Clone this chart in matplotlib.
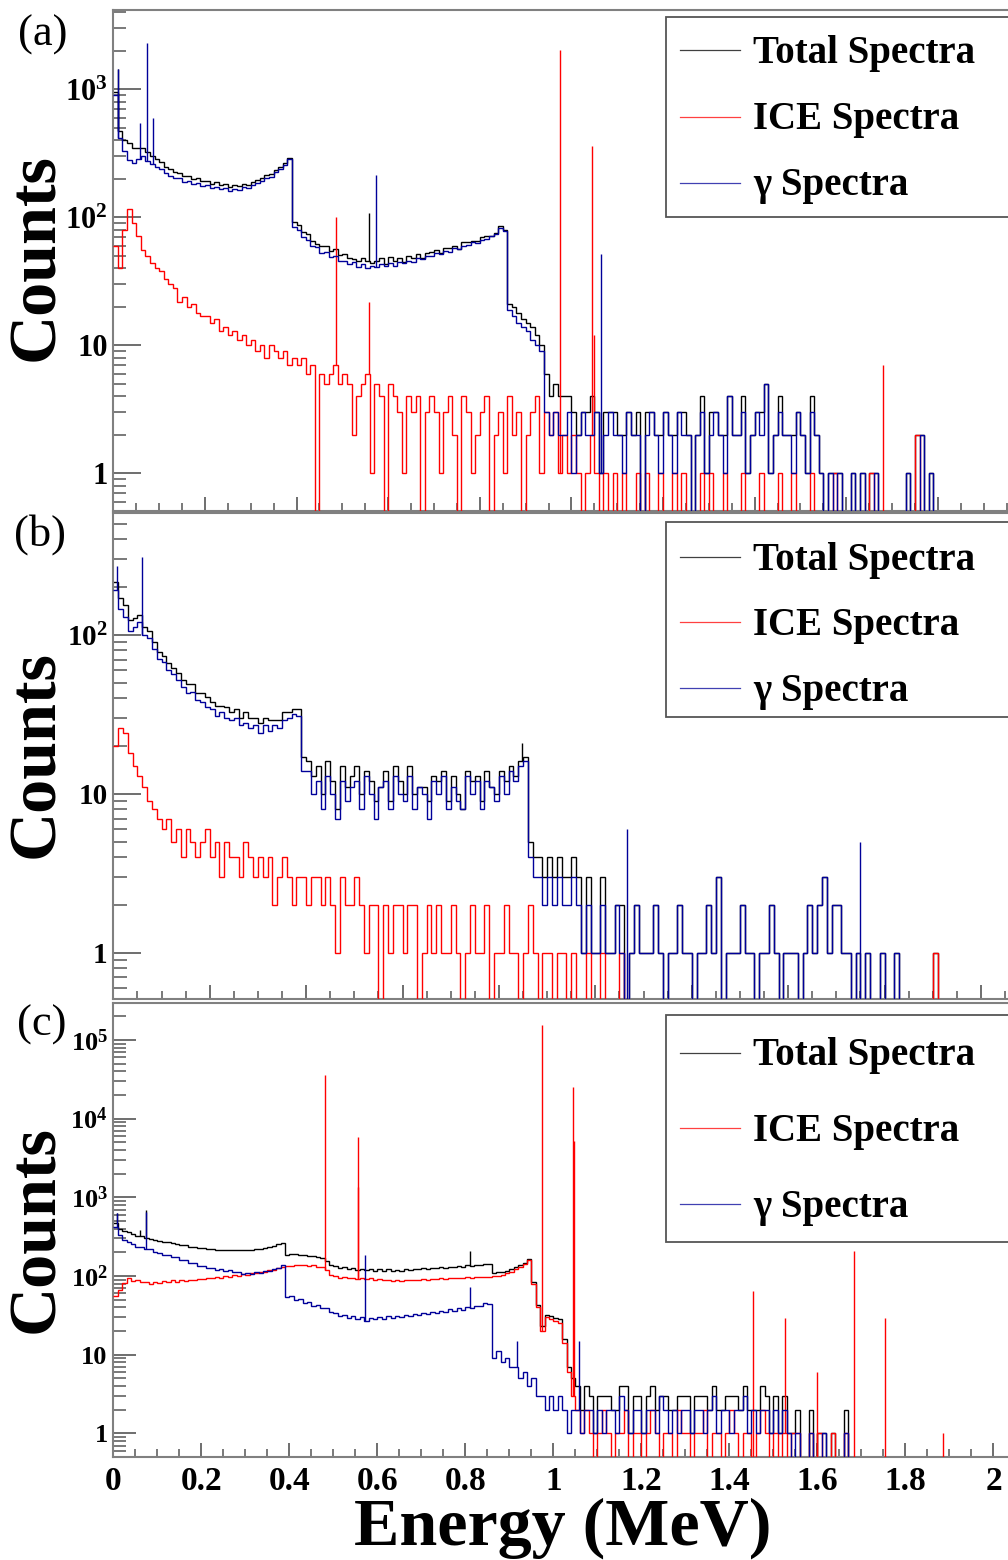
import numpy as np
import matplotlib
matplotlib.use("Agg")
import matplotlib.pyplot as plt
from matplotlib.lines import Line2D
from matplotlib.patches import Rectangle
from matplotlib.ticker import FixedLocator, LogLocator, NullFormatter, MultipleLocator, FuncFormatter

# ---------------- data (counts per 10 keV bin) ----------------
BIN_EDGES_MEV = np.linspace(0.0, 2.0, 201)
SERIES_NAMES = ["Total Spectra", "ICE Spectra", "\u03b3 Spectra"]

# ---- panel (a) ----
A_TOTAL = [
    960, 470, 400, 385, 352, 350, 352, 322, 303, 285,
    270, 250, 238, 226, 224, 210, 210, 198, 202, 192,
    193, 184, 188, 178, 182, 172, 180, 175, 183, 180,
    190, 195, 202, 214, 217, 236, 246, 266, 292, 92,
    88, 77, 74, 66, 62, 60, 60, 55, 57, 51,
    52, 48, 47, 46, 48, 46, 44, 46, 48, 43,
    49, 46, 48, 45, 50, 48, 52, 48, 53, 54,
    56, 53, 58, 58, 60, 57, 64, 64, 65, 65,
    70, 72, 72, 76, 85, 80, 21, 20, 18, 16,
    15, 14, 12, 10, 6, 4, 5, 4, 4, 4,
    3, 2, 3, 3, 4, 3, 1, 3, 3, 3,
    2, 2, 3, 2, 3, 0, 3, 3, 2, 2,
    3, 2, 2, 3, 3, 2, 0, 2, 4, 1,
    3, 3, 2, 2, 4, 2, 2, 4, 1, 2,
    3, 3, 5, 1, 2, 4, 2, 2, 2, 3,
    2, 1, 4, 2, 1, 0, 1, 1, 1, 0,
    0, 1, 0, 1, 0, 1, 1, 0, 0, 0,
    0, 0, 0, 1, 0, 2, 2, 0, 1, 0,
    0, 0, 0, 0, 0, 0, 0, 0, 0, 0,
    0, 0, 0, 0, 0, 0, 0, 0, 0, 0,
]
A_ICE = [
    60, 40, 80, 117, 90, 72, 56, 50, 44, 40,
    38, 33, 30, 28, 22, 24, 20, 21, 18, 17,
    17, 15, 16, 13, 14, 12, 13, 11, 12, 10,
    11, 9, 10, 8, 10, 9, 8, 9, 7, 8,
    7, 8, 6, 7, 0, 6, 5, 6, 7, 5,
    6, 5, 2, 4, 5, 6, 1, 5, 4, 0,
    5, 4, 3, 1, 4, 3, 4, 0, 3, 4,
    3, 1, 3, 4, 2, 0, 4, 3, 1, 2,
    3, 4, 0, 2, 3, 1, 4, 2, 3, 0,
    2, 3, 4, 1, 3, 2, 3, 1, 2, 1,
    2, 1, 0, 1, 2, 1, 0, 1, 0, 1,
    0, 1, 0, 0, 1, 0, 1, 0, 0, 1,
    0, 0, 1, 0, 1, 0, 0, 0, 1, 0,
    1, 0, 0, 1, 0, 0, 0, 1, 0, 0,
    0, 1, 0, 0, 0, 1, 0, 0, 1, 0,
    0, 0, 1, 0, 0, 0, 0, 1, 0, 0,
    0, 0, 0, 0, 0, 1, 0, 0, 0, 0,
    0, 0, 0, 0, 0, 2, 0, 0, 0, 0,
    0, 0, 0, 0, 0, 0, 0, 0, 0, 0,
    0, 0, 0, 0, 0, 0, 0, 0, 0, 0,
]
A_GAMMA = [
    900, 420, 330, 280, 265, 285, 300, 275, 262, 248,
    240, 222, 210, 202, 204, 190, 192, 181, 185, 176,
    178, 170, 174, 166, 169, 160, 167, 164, 172, 170,
    180, 186, 192, 205, 208, 228, 238, 258, 285, 84,
    80, 70, 67, 60, 59, 53, 54, 49, 50, 46,
    46, 43, 45, 41, 43, 40, 42, 41, 43, 42,
    44, 42, 45, 44, 46, 45, 48, 47, 50, 50,
    53, 52, 55, 54, 58, 57, 60, 61, 64, 63,
    67, 68, 72, 74, 82, 79, 19, 17, 15, 14,
    13, 11, 10, 9, 3, 2, 3, 2, 2, 3,
    1, 2, 3, 2, 2, 3, 1, 2, 3, 2,
    2, 1, 3, 2, 2, 0, 2, 3, 2, 1,
    3, 2, 1, 3, 2, 2, 0, 2, 3, 1,
    2, 3, 2, 1, 4, 2, 2, 3, 1, 2,
    3, 2, 5, 1, 2, 3, 2, 2, 1, 3,
    2, 1, 3, 2, 1, 0, 1, 0, 1, 0,
    0, 1, 0, 1, 0, 0, 1, 0, 0, 0,
    0, 0, 0, 1, 0, 0, 2, 0, 1, 0,
    0, 0, 0, 0, 0, 0, 0, 0, 0, 0,
    0, 0, 0, 0, 0, 0, 0, 0, 0, 0,
]
A_TOTAL_PEAK_E = [0.010, 0.558]
A_TOTAL_PEAK_H = [1450, 108]
A_ICE_PEAK_E = [0.486, 0.558, 0.975, 1.046, 1.049, 1.680]
A_ICE_PEAK_H = [100, 22, 2030, 360, 12, 7]
A_GAMMA_PEAK_E = [0.010, 0.058, 0.073, 0.087, 0.574, 1.065]
A_GAMMA_PEAK_H = [1450, 550, 2300, 600, 213, 52]

# ---- panel (b) ----
B_TOTAL = [
    215, 172, 155, 125, 128, 133, 112, 106, 90, 78,
    74, 67, 62, 58, 52, 49, 49, 43, 43, 41,
    38, 36, 36, 35, 33, 34, 30, 33, 30, 30,
    28, 30, 29, 29, 29, 33, 33, 34, 34, 17,
    16, 13, 15, 10, 16, 12, 8, 15, 11, 13,
    15, 10, 14, 12, 9, 11, 14, 9, 15, 12,
    10, 15, 10, 11, 11, 9, 13, 12, 14, 9,
    13, 10, 8, 14, 12, 13, 9, 14, 11, 10,
    14, 12, 15, 13, 16, 17, 5, 4, 4, 3,
    4, 3, 4, 3, 3, 4, 3, 1, 3, 1,
    1, 3, 1, 1, 2, 2, 0, 1, 2, 1,
    1, 1, 2, 1, 0, 1, 1, 2, 1, 1,
    0, 1, 1, 2, 1, 3, 0, 1, 1, 1,
    2, 1, 1, 0, 1, 1, 2, 1, 0, 1,
    1, 1, 0, 1, 2, 1, 2, 3, 1, 2,
    2, 1, 1, 0, 1, 0, 1, 0, 0, 1,
    0, 0, 1, 0, 0, 0, 0, 0, 0, 0,
    1, 0, 0, 0, 0, 0, 0, 0, 0, 0,
    0, 0, 0, 0, 0, 0, 0, 0, 0, 0,
    0, 0, 0, 0, 0, 0, 0, 0, 0, 0,
]
B_ICE = [
    20, 26, 24, 18, 15, 13, 11, 9, 8, 7,
    6, 7, 5, 6, 4, 6, 5, 4, 5, 6,
    4, 5, 3, 5, 4, 4, 3, 5, 4, 3,
    4, 3, 4, 2, 3, 4, 3, 2, 3, 3,
    2, 3, 3, 2, 3, 2, 1, 3, 2, 2,
    3, 2, 1, 2, 2, 0, 2, 1, 2, 2,
    1, 2, 2, 0, 1, 2, 1, 2, 1, 1,
    2, 1, 0, 1, 2, 1, 1, 2, 0, 1,
    1, 2, 1, 1, 0, 1, 2, 1, 0, 1,
    1, 0, 1, 1, 0, 1, 0, 0, 1, 0,
    0, 1, 0, 0, 0, 1, 0, 0, 0, 0,
    0, 0, 0, 0, 0, 0, 0, 0, 0, 0,
    0, 0, 0, 0, 0, 0, 0, 0, 0, 0,
    0, 0, 0, 0, 0, 0, 0, 0, 0, 0,
    0, 0, 0, 0, 0, 0, 0, 0, 0, 0,
    0, 0, 0, 0, 0, 0, 0, 0, 0, 0,
    0, 0, 0, 0, 0, 0, 0, 0, 0, 0,
    1, 0, 0, 0, 0, 0, 0, 0, 0, 0,
    0, 0, 0, 0, 0, 0, 0, 0, 0, 0,
    0, 0, 0, 0, 0, 0, 0, 0, 0, 0,
]
B_GAMMA = [
    192, 145, 130, 106, 112, 120, 100, 96, 82, 71,
    68, 60, 57, 52, 47, 43, 44, 39, 38, 35,
    34, 31, 33, 30, 29, 30, 27, 28, 26, 27,
    24, 27, 25, 27, 26, 29, 30, 32, 31, 14,
    14, 10, 12, 8, 13, 10, 7, 12, 9, 11,
    12, 8, 13, 10, 7, 11, 12, 8, 13, 10,
    9, 13, 8, 11, 10, 7, 12, 10, 13, 8,
    11, 9, 8, 13, 10, 12, 8, 12, 11, 9,
    13, 10, 14, 12, 15, 16, 4, 3, 3, 2,
    3, 2, 3, 2, 2, 3, 2, 1, 2, 1,
    1, 2, 1, 1, 2, 1, 0, 1, 2, 1,
    1, 1, 2, 1, 0, 1, 1, 2, 1, 1,
    0, 1, 1, 2, 1, 3, 0, 1, 1, 1,
    2, 1, 1, 0, 1, 1, 2, 1, 0, 1,
    1, 1, 0, 1, 2, 1, 2, 3, 1, 2,
    2, 1, 1, 0, 1, 0, 1, 0, 0, 1,
    0, 0, 1, 0, 0, 0, 0, 0, 0, 0,
    0, 0, 0, 0, 0, 0, 0, 0, 0, 0,
    0, 0, 0, 0, 0, 0, 0, 0, 0, 0,
    0, 0, 0, 0, 0, 0, 0, 0, 0, 0,
]
B_TOTAL_PEAK_E = [0.848]
B_TOTAL_PEAK_H = [21]
B_ICE_PEAK_E = []
B_ICE_PEAK_H = []
B_GAMMA_PEAK_E = [0.008, 0.060, 1.066, 1.549]
B_GAMMA_PEAK_H = [270, 310, 6, 5]

# ---- panel (c) ----
C_TOTAL = [
    470, 400, 372, 362, 338, 324, 318, 306, 298, 285,
    279, 271, 268, 260, 257, 247, 245, 237, 234, 227,
    225, 221, 221, 217, 217, 214, 216, 214, 214, 212,
    214, 215, 220, 223, 230, 235, 244, 252, 266, 187,
    189, 188, 187, 185, 181, 179, 174, 169, 157, 138,
    133, 126, 129, 122, 126, 120, 124, 118, 122, 117,
    121, 116, 121, 116, 120, 117, 121, 119, 123, 121,
    125, 123, 127, 125, 129, 127, 132, 129, 134, 131,
    136, 134, 139, 137, 143, 141, 108, 111, 112, 117,
    121, 129, 136, 147, 164, 85, 43, 23, 32, 31,
    29, 28, 16, 7, 5, 4, 2, 4, 3, 1,
    3, 3, 3, 2, 2, 4, 4, 1, 3, 3,
    1, 3, 4, 2, 3, 3, 2, 2, 3, 3,
    3, 1, 3, 3, 3, 2, 4, 2, 2, 3,
    3, 3, 2, 4, 2, 2, 2, 4, 3, 1,
    3, 1, 3, 1, 1, 2, 0, 0, 2, 0,
    1, 1, 0, 1, 0, 0, 2, 0, 0, 0,
    0, 0, 0, 0, 0, 0, 0, 0, 0, 0,
    0, 0, 0, 0, 0, 0, 0, 0, 0, 0,
    0, 0, 0, 0, 0, 0, 0, 0, 0, 0,
]
C_ICE = [
    55, 66, 82, 94, 86, 88, 83, 85, 80, 84,
    81, 86, 84, 88, 85, 89, 87, 90, 88, 92,
    91, 95, 93, 97, 95, 99, 98, 102, 100, 105,
    104, 109, 108, 113, 114, 119, 120, 126, 129, 133,
    134, 138, 136, 139, 134, 137, 131, 130, 118, 103,
    99, 95, 97, 93, 95, 92, 94, 91, 93, 89,
    91, 88, 90, 87, 89, 87, 89, 88, 90, 89,
    91, 90, 92, 91, 93, 92, 94, 93, 95, 94,
    96, 95, 97, 96, 98, 97, 99, 100, 104, 108,
    114, 122, 131, 141, 160, 80, 40, 20, 30, 28,
    27, 25, 14, 6, 3, 2, 1, 2, 1, 0,
    1, 2, 1, 0, 1, 1, 2, 0, 1, 1,
    0, 1, 2, 1, 0, 1, 1, 0, 2, 1,
    1, 0, 1, 1, 2, 0, 1, 1, 0, 1,
    2, 1, 0, 1, 1, 0, 1, 2, 1, 0,
    1, 0, 1, 0, 1, 1, 0, 0, 1, 0,
    1, 0, 0, 1, 0, 0, 1, 0, 0, 0,
    0, 0, 0, 0, 0, 0, 0, 0, 0, 0,
    0, 0, 0, 0, 0, 0, 0, 0, 0, 0,
    0, 0, 0, 0, 0, 0, 0, 0, 0, 0,
]
C_GAMMA = [
    420, 330, 290, 268, 252, 236, 235, 221, 218, 201,
    198, 185, 184, 172, 172, 158, 158, 147, 146, 135,
    134, 126, 128, 120, 122, 115, 118, 112, 114, 107,
    110, 106, 112, 110, 116, 116, 124, 126, 137, 54,
    55, 50, 51, 46, 47, 42, 43, 39, 39, 35,
    34, 31, 32, 29, 31, 28, 30, 27, 29, 28,
    30, 28, 31, 29, 31, 30, 32, 31, 33, 32,
    34, 33, 35, 34, 36, 35, 38, 36, 39, 37,
    40, 39, 42, 41, 45, 44, 9, 11, 8, 9,
    7, 7, 5, 6, 4, 5, 3, 3, 2, 3,
    2, 3, 2, 1, 2, 2, 1, 2, 2, 1,
    2, 1, 2, 2, 1, 3, 2, 1, 2, 2,
    1, 2, 2, 1, 3, 2, 1, 2, 1, 2,
    2, 1, 2, 2, 1, 2, 3, 1, 2, 2,
    1, 2, 2, 3, 1, 2, 1, 2, 2, 1,
    2, 1, 2, 1, 0, 1, 0, 0, 1, 0,
    0, 1, 0, 0, 0, 0, 1, 0, 0, 0,
    0, 0, 0, 0, 0, 0, 0, 0, 0, 0,
    0, 0, 0, 0, 0, 0, 0, 0, 0, 0,
    0, 0, 0, 0, 0, 0, 0, 0, 0, 0,
]
C_TOTAL_PEAK_E = [0.009, 0.060, 0.074, 0.810]
C_TOTAL_PEAK_H = [640, 380, 680, 205]
C_ICE_PEAK_E = [0.481, 0.555, 0.557, 0.973, 1.045, 1.047, 1.454, 1.527, 1.599, 1.683, 1.754, 1.886]
C_ICE_PEAK_H = [35800, 5900, 1350, 155000, 25000, 5200, 65, 29, 6, 208, 29, 1]
C_GAMMA_PEAK_E = [0.009, 0.074, 0.572, 0.810, 0.918, 1.058]
C_GAMMA_PEAK_H = [630, 660, 185, 73, 15, 15]

# y tick labels per panel
A_YTICKS = [1, 10, 100, 1000]
A_YLABELS = ["1", "10", r"$10^{2}$", r"$10^{3}$"]
B_YTICKS = [1, 10, 100]
B_YLABELS = ["1", "10", r"$10^{2}$"]
C_YTICKS = [1, 10, 100, 1000, 10000, 100000]
C_YLABELS = ["1", "10", r"$10^{2}$", r"$10^{3}$", r"$10^{4}$", r"$10^{5}$"]

# ---------------- style ----------------
W, H = 1008, 1560
plt.rcParams.update({
    "font.family": ["Liberation Serif", "DejaVu Serif"],
    "font.weight": "bold",
    "mathtext.fontset": "custom",
    "mathtext.rm": "Liberation Serif:bold",
    "mathtext.bf": "Liberation Serif:bold",
    "mathtext.it": "Liberation Serif:bold:italic",
    "mathtext.default": "bf",
})
COLORS = ["#000000", "#ff0000", "#000099"]
FRAME = "#808080"
TICKC = "#555555"

fig = plt.figure(figsize=(W / 100, H / 100), dpi=100)


def px_axes(top, bottom):
    left = 113.3 / W
    return fig.add_axes([left, 1 - bottom / H, 1.0 - left, (bottom - top) / H])


def draw_panel(ax, series, peaks, xmax, ylim, yticks, ylabels, ylab_fs, ymaj, ymin_len, show_x):
    for i, (vals, (pe, ph)) in enumerate(zip(series, peaks)):
        v = np.asarray(vals, dtype=float)
        v = np.where(v > 0, v, 0.1)
        ax.stairs(v, BIN_EDGES_MEV, baseline=None, color=COLORS[i], linewidth=1.0, zorder=2 + i)
        if len(pe):
            idx = np.clip((np.asarray(pe) / 0.01).astype(int), 0, len(v) - 1)
            base = v[idx]
            ax.vlines(pe, base, ph, color=COLORS[i], linewidth=1.0, zorder=2 + i)
    ax.set_yscale("log")
    ax.set_xlim(0, xmax)
    ax.set_ylim(*ylim)
    ax.yaxis.set_major_locator(FixedLocator(yticks))
    ax.set_yticklabels(ylabels)
    ax.yaxis.set_minor_locator(LogLocator(base=10, subs=np.arange(2, 10)))
    ax.yaxis.set_minor_formatter(NullFormatter())
    ax.xaxis.set_major_locator(MultipleLocator(0.2))
    ax.xaxis.set_minor_locator(MultipleLocator(0.05))
    ax.xaxis.set_major_formatter(FuncFormatter(lambda x, p: "%g" % round(x, 2)))
    for s in ["top", "left", "bottom"]:
        ax.spines[s].set_color(FRAME)
        ax.spines[s].set_linewidth(1.5)
    ax.spines["right"].set_visible(False)
    ax.tick_params(axis="y", which="major", direction="in", length=ymaj, width=1.2,
                   color=TICKC, labelsize=ylab_fs, pad=4, right=False)
    ax.tick_params(axis="y", which="minor", direction="in", length=ymin_len, width=1.1,
                   color=TICKC, right=False)
    ax.tick_params(axis="x", which="major", direction="in", length=10, width=1.2,
                   color=TICKC, labelsize=24, pad=7, top=False, labelbottom=show_x)
    ax.tick_params(axis="x", which="minor", direction="in", length=6, width=1.1,
                   color=TICKC, top=False)
    for lab in ax.get_yticklabels() + ax.get_xticklabels():
        lab.set_fontweight("bold")


def draw_legend(box_top, box_bottom, rows_y, fs):
    rect = Rectangle((666 / W, 1 - box_bottom / H), (W + 30 - 666) / W, (box_bottom - box_top) / H,
                     transform=fig.transFigure, facecolor="white", edgecolor="#555555",
                     linewidth=1.3, zorder=10, clip_on=False)
    fig.add_artist(rect)
    for y, name, col in zip(rows_y, SERIES_NAMES, COLORS):
        fig.add_artist(Line2D([680 / W, 740 / W], [1 - y / H, 1 - y / H], color=col,
                              linewidth=0.9, zorder=11, alpha=0.75))
        fig.text(753 / W, 1 - (y + 3) / H, name, ha="left", va="center", fontsize=fs,
                 fontweight="bold", zorder=12)


# panel (a)
ax_a = px_axes(9.5, 511)
draw_panel(ax_a, [A_TOTAL, A_ICE, A_GAMMA],
           [(A_TOTAL_PEAK_E, A_TOTAL_PEAK_H), (A_ICE_PEAK_E, A_ICE_PEAK_H), (A_GAMMA_PEAK_E, A_GAMMA_PEAK_H)],
           1.953, (10 ** -0.294, 10 ** 3.625), A_YTICKS, A_YLABELS, 22, 20, 9.5, False)
# panel (b)
ax_b = px_axes(513, 999)
draw_panel(ax_b, [B_TOTAL, B_ICE, B_GAMMA],
           [(B_TOTAL_PEAK_E, B_TOTAL_PEAK_H), (B_ICE_PEAK_E, B_ICE_PEAK_H), (B_GAMMA_PEAK_E, B_GAMMA_PEAK_H)],
           1.856, (10 ** -0.291, 10 ** 2.768), B_YTICKS, B_YLABELS, 21, 20, 10, False)
# panel (c)
ax_c = px_axes(1003, 1456.7)
draw_panel(ax_c, [C_TOTAL, C_ICE, C_GAMMA],
           [(C_TOTAL_PEAK_E, C_TOTAL_PEAK_H), (C_ICE_PEAK_E, C_ICE_PEAK_H), (C_GAMMA_PEAK_E, C_GAMMA_PEAK_H)],
           2.033, (10 ** -0.297, 10 ** 5.47), C_YTICKS, C_YLABELS, 19, 16.5, 9.5, True)

draw_legend(17, 217, [50, 117, 183], 28)
draw_legend(522, 717, [557, 622, 688], 28)
draw_legend(1015, 1242, [1053, 1128, 1204], 28)

# panel letters
for lab, x, y in [("(a)", 18, 35), ("(b)", 14, 535), ("(c)", 17, 1025)]:
    fig.text(x / W, 1 - y / H, lab, ha="left", va="center", fontsize=32, fontweight="normal")

# y labels
for yc in [257, 754, 1229]:
    fig.text(37 / W, 1 - yc / H, "Counts", rotation=90, ha="center", va="center",
             fontsize=49, fontweight="bold")

fig.text(563 / W, 1 - 1528 / H, "Energy (MeV)", ha="center", va="center", fontsize=49, fontweight="bold")

fig.savefig("out.png", dpi=100)
